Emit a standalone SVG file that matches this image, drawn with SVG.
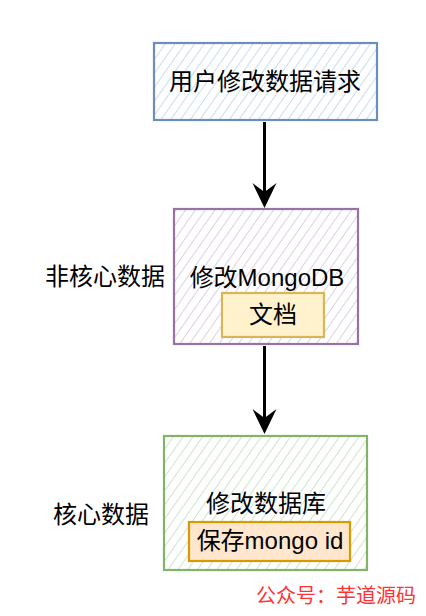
<svg xmlns="http://www.w3.org/2000/svg" width="426" height="616" viewBox="0 0 426 616">
<style>
text{font-family:"Liberation Sans","Noto Sans CJK SC",sans-serif;font-size:24px;fill:#000;text-anchor:middle}
.wm{font-size:20px;fill:#ff3333;text-anchor:start}
.b{stroke-width:2.2}
.ln{stroke:#000;stroke-width:3;fill:none}
</style>
<defs>
<pattern id="hb" width="8" height="8" patternUnits="userSpaceOnUse" patternTransform="rotate(35)"><line x1="0" y1="0" x2="0" y2="8" stroke="#c9dbf5" stroke-width="2"/></pattern>
<pattern id="hp" width="8" height="8" patternUnits="userSpaceOnUse" patternTransform="rotate(35)"><line x1="0" y1="0" x2="0" y2="8" stroke="#ddd0e6" stroke-width="2"/></pattern>
<pattern id="hg" width="8" height="8" patternUnits="userSpaceOnUse" patternTransform="rotate(35)"><line x1="0" y1="0" x2="0" y2="8" stroke="#cde4cb" stroke-width="2"/></pattern>
<marker id="ah" markerUnits="userSpaceOnUse" markerWidth="26" markerHeight="26" refX="9" refY="12" orient="auto" viewBox="0 0 26 26"><path d="M0,0 L25,12 L0,24 L9,12 Z" fill="#000"/></marker>
</defs>
<g id="n1">
<rect x="154" y="43" width="223" height="77" fill="url(#hb)" stroke="#6c8ebf" class="b"/>
<text x="265" y="90">用户修改数据请求</text>
</g>
<g id="n2">
<rect x="174" y="209" width="184" height="135" fill="url(#hp)" stroke="#9673a6" class="b"/>
<text x="267" y="286">修改MongoDB</text>
</g>
<g id="n2a">
<rect x="222" y="293" width="102" height="44" fill="#fff2cc" stroke="#d6b656" class="b"/>
<text x="273" y="323">文档</text>
</g>
<g id="n3">
<rect x="164" y="436" width="203" height="134" fill="url(#hg)" stroke="#82b366" class="b"/>
<text x="266" y="512">修改数据库</text>
</g>
<g id="n3a">
<rect x="189" y="522" width="161" height="39" fill="#ffe6cc" stroke="#d79b00" class="b"/>
<text x="270" y="549">保存mongo id</text>
</g>
<g id="l1"><text x="105" y="285">非核心数据</text></g>
<g id="l2"><text x="101" y="523">核心数据</text></g>
<g id="connectors">
<line x1="264.5" y1="122" x2="264.5" y2="192" class="ln" marker-end="url(#ah)"/>
<line x1="264.5" y1="346" x2="264.5" y2="418" class="ln" marker-end="url(#ah)"/>
</g>
<text class="wm" x="256" y="603">公众号：芋道源码</text>
</svg>
